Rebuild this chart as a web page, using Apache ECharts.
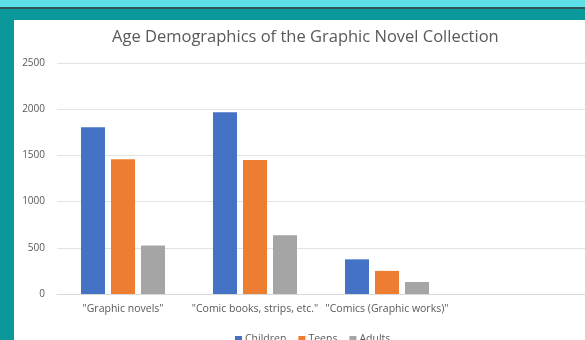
<!DOCTYPE html>
<html>
<head>
<meta charset="utf-8">
<script src="https://cdn.jsdelivr.net/npm/echarts@6/dist/echarts.min.js"></script>
<style>
  html, body { margin: 0; padding: 0; width: 585px; height: 340px; overflow: hidden; background: #0b989a; }
  #topstrip { position: absolute; left: 0; top: 0; width: 585px; height: 7px; background: #5de0e7; border-bottom: 2px solid #2f5556; }
  #chart { position: absolute; left: 14px; top: 20px; width: 571px; height: 320px; background: #ffffff; }
</style>
</head>
<body>
<div id="topstrip"></div>
<div id="chart"></div>
<script>
const titleText = 'Age Demographics of the Graphic Novel Collection';
const categories = ['"Graphic novels"', '"Comic books, strips, etc."', '"Comics (Graphic works)"', ''];
const seriesNames = ['Children', 'Teens', 'Adults'];
const children = [1805, 1968, 375];
const teens = [1458, 1450, 250];
const adults = [525, 635, 130];
const yTicks = { min: 0, max: 2500, interval: 500 };
const colors = ['#4472C4', '#ED7D31', '#A5A5A5'];

const chart = echarts.init(document.getElementById('chart'), null, { renderer: 'canvas' });
const font = '"Open Sans", "Liberation Sans", sans-serif';
const values = [children, teens, adults];
chart.setOption({
  animation: false,
  textStyle: { fontFamily: font },
  title: {
    text: titleText,
    left: 93, top: 4,
    textStyle: { fontFamily: font, fontSize: 16.5, fontWeight: 'normal', color: '#595959' }
  },
  legend: {
    data: seriesNames,
    left: 216, top: 309,
    itemWidth: 7, itemHeight: 7, itemGap: 12,
    icon: 'rect',
    textStyle: { fontFamily: font, fontSize: 10.5, color: '#595959', padding: [0, 0, 0, -2] }
  },
  grid: { left: 43, right: -4, top: 43, bottom: 46, containLabel: false },
  xAxis: {
    type: 'category',
    data: categories,
    axisLine: { show: true, lineStyle: { color: '#d9d9d9', width: 1 } },
    axisTick: { show: false },
    axisLabel: { color: '#595959', fontSize: 10.5, margin: 10, interval: 0 },
    splitLine: { show: false }
  },
  yAxis: {
    type: 'value',
    min: yTicks.min, max: yTicks.max, interval: yTicks.interval,
    axisLine: { show: false },
    axisTick: { show: false },
    axisLabel: { color: '#595959', fontSize: 10, margin: 12, formatter: v => String(v) },
    splitLine: { lineStyle: { color: '#e3e3e3', width: 1 } }
  },
  series: seriesNames.map((name, i) => ({
    name: name,
    type: 'bar',
    data: values[i],
    barWidth: 24,
    barGap: '25%',
    itemStyle: { color: colors[i] }
  }))
});
</script>
</body>
</html>
